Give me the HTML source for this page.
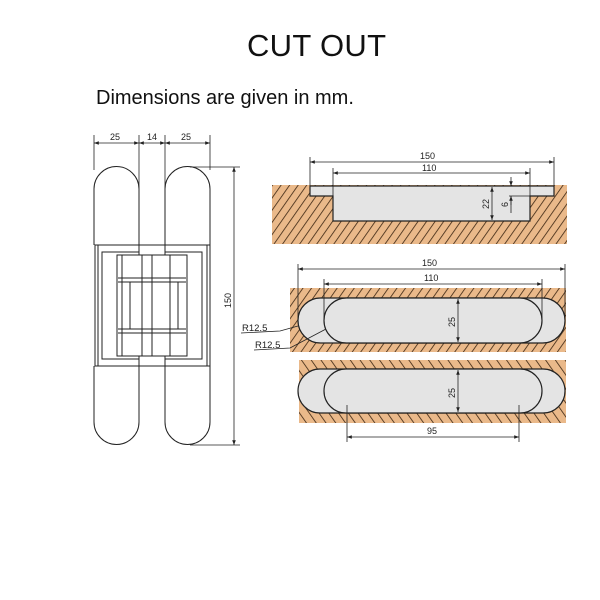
<!DOCTYPE html>
<html><head><meta charset="utf-8"><style>
html,body{margin:0;padding:0;background:#fff;width:600px;height:600px;overflow:hidden}
svg{display:block}
text{font-family:"Liberation Sans",sans-serif;fill:#222}
</style></head><body>
<svg width="600" height="600" viewBox="0 0 600 600" xmlns="http://www.w3.org/2000/svg">
<defs>
<pattern id="h" patternUnits="userSpaceOnUse" width="7" height="7" patternTransform="rotate(35)">
<rect width="7" height="7" fill="#eab98a"/><line x1="0" y1="0" x2="0" y2="7" stroke="#3a2410" stroke-width="1.6"/>
</pattern>
<pattern id="h2" patternUnits="userSpaceOnUse" width="8" height="8" patternTransform="rotate(-35)">
<rect width="8" height="8" fill="#eab98a"/><line x1="0" y1="0" x2="0" y2="8" stroke="#3a2410" stroke-width="1.6"/>
</pattern>
<marker id="a" viewBox="0 0 8 8" refX="8" refY="4" markerWidth="6" markerHeight="6" orient="auto-start-reverse"><path d="M0,1 L8,4 L0,7z" fill="#222"/></marker>
</defs>
<text x="247" y="56" font-size="31" textLength="139" style="fill:#111">CUT OUT</text>
<text x="96" y="104" font-size="20" style="fill:#111">Dimensions are given in mm.</text>

<!-- hinge -->
<g stroke="#222" stroke-width="1" fill="#fff">
<path d="M94,245 V189 A22.5,22.5 0 0 1 139,189 V245"/>
<path d="M165,245 V189 A22.5,22.5 0 0 1 210,189 V245"/>
<path d="M94,366 V422 A22.5,22.5 0 0 0 139,422 V366"/>
<path d="M165,366 V422 A22.5,22.5 0 0 0 210,422 V366"/>
<rect x="95" y="245" width="115" height="121"/>
<rect x="98" y="245" width="109" height="121"/>
<rect x="102" y="252" width="100" height="107"/>
<rect x="117" y="255" width="70" height="101"/>
<line x1="118" y1="278" x2="186" y2="278"/><line x1="118" y1="282" x2="186" y2="282"/>
<line x1="118" y1="329" x2="186" y2="329"/><line x1="118" y1="333" x2="186" y2="333"/>
<line x1="122" y1="255" x2="122" y2="356"/><line x1="142" y1="255" x2="142" y2="356"/>
<line x1="152" y1="255" x2="152" y2="356"/><line x1="170" y1="255" x2="170" y2="356"/>
<line x1="130" y1="282" x2="130" y2="329"/><line x1="178" y1="282" x2="178" y2="329"/>
<rect x="139" y="245" width="26" height="10"/><rect x="139" y="356" width="26" height="10"/>
</g>
<g stroke="#222" stroke-width="0.8" fill="none">
<line x1="94" y1="135" x2="94" y2="170"/><line x1="139" y1="135" x2="139" y2="245"/>
<line x1="165" y1="135" x2="165" y2="245"/><line x1="210" y1="135" x2="210" y2="170"/>
<line x1="94" y1="143" x2="139" y2="143" marker-start="url(#a)" marker-end="url(#a)"/>
<line x1="139" y1="143" x2="165" y2="143" marker-start="url(#a)" marker-end="url(#a)"/>
<line x1="165" y1="143" x2="210" y2="143" marker-start="url(#a)" marker-end="url(#a)"/>
<line x1="190" y1="167" x2="240" y2="167"/><line x1="190" y1="445" x2="240" y2="445"/>
<line x1="234" y1="167" x2="234" y2="445" marker-start="url(#a)" marker-end="url(#a)"/>
</g>
<text x="110" y="140" font-size="9">25</text><text x="147" y="140" font-size="9">14</text><text x="181" y="140" font-size="9">25</text>
<text transform="translate(231,308) rotate(-90)" font-size="9">150</text>

<!-- top section -->
<rect x="272" y="185" width="295" height="59" fill="url(#h)"/>
<path d="M310,186 H554 V196 H530 V221 H333 V196 H310Z" fill="#e4e4e4" stroke="#222" stroke-width="1.2"/>
<g stroke="#222" stroke-width="0.8" fill="none">
<line x1="310" y1="157" x2="310" y2="186"/><line x1="554" y1="157" x2="554" y2="186"/>
<line x1="333" y1="168" x2="333" y2="196"/><line x1="530" y1="168" x2="530" y2="196"/>
<line x1="310" y1="162" x2="554" y2="162" marker-start="url(#a)" marker-end="url(#a)"/>
<line x1="333" y1="173" x2="530" y2="173" marker-start="url(#a)" marker-end="url(#a)"/>
<line x1="492" y1="187" x2="492" y2="220" marker-start="url(#a)" marker-end="url(#a)"/>
<line x1="511" y1="177" x2="511" y2="186" marker-end="url(#a)"/>
<line x1="511" y1="205" x2="511" y2="196" marker-end="url(#a)"/>
<line x1="509" y1="196" x2="530" y2="196"/><line x1="511" y1="196" x2="511" y2="213"/>
</g>
<text x="420" y="159" font-size="9">150</text><text x="422" y="171" font-size="9">110</text>
<text transform="translate(489,209) rotate(-90)" font-size="9">22</text>
<text transform="translate(508,207) rotate(-90)" font-size="9">6</text>

<!-- middle -->
<rect x="290" y="288" width="276" height="64" fill="url(#h)"/>
<rect x="298" y="298" width="267" height="45" rx="22.5" fill="#e4e4e4" stroke="#222" stroke-width="1.2"/>
<rect x="324" y="298" width="218" height="45" rx="22.5" fill="#e4e4e4" stroke="#222" stroke-width="1.2"/>
<g stroke="#222" stroke-width="0.8" fill="none">
<line x1="298" y1="264" x2="298" y2="318"/><line x1="565" y1="264" x2="565" y2="318"/>
<line x1="324" y1="279" x2="324" y2="318"/><line x1="542" y1="279" x2="542" y2="318"/>
<line x1="298" y1="269" x2="565" y2="269" marker-start="url(#a)" marker-end="url(#a)"/>
<line x1="324" y1="284" x2="542" y2="284" marker-start="url(#a)" marker-end="url(#a)"/>
<line x1="458" y1="299" x2="458" y2="342" marker-start="url(#a)" marker-end="url(#a)"/>
<polyline points="241,333 280,331 298,326"/>
<polyline points="254,350 290,348 326,329"/>
</g>
<text x="422" y="266" font-size="9">150</text><text x="424" y="281" font-size="9">110</text>
<text transform="translate(455,327) rotate(-90)" font-size="9">25</text>
<text x="242" y="331" font-size="9.5">R12.5</text><text x="255" y="348" font-size="9.5">R12.5</text>

<!-- bottom -->
<rect x="299" y="360" width="267" height="63" fill="url(#h2)"/>
<rect x="298" y="369" width="267" height="44" rx="22" fill="#e4e4e4" stroke="#222" stroke-width="1.2"/>
<rect x="324" y="369" width="218" height="44" rx="22" fill="#e4e4e4" stroke="#222" stroke-width="1.2"/>
<g stroke="#222" stroke-width="0.8" fill="none">
<line x1="347" y1="405" x2="347" y2="442"/><line x1="519" y1="405" x2="519" y2="442"/>
<line x1="347" y1="437" x2="519" y2="437" marker-start="url(#a)" marker-end="url(#a)"/>
<line x1="458" y1="370" x2="458" y2="412" marker-start="url(#a)" marker-end="url(#a)"/>
</g>
<text x="427" y="434" font-size="9">95</text>
<text transform="translate(455,398) rotate(-90)" font-size="9">25</text>
</svg>
</body></html>
